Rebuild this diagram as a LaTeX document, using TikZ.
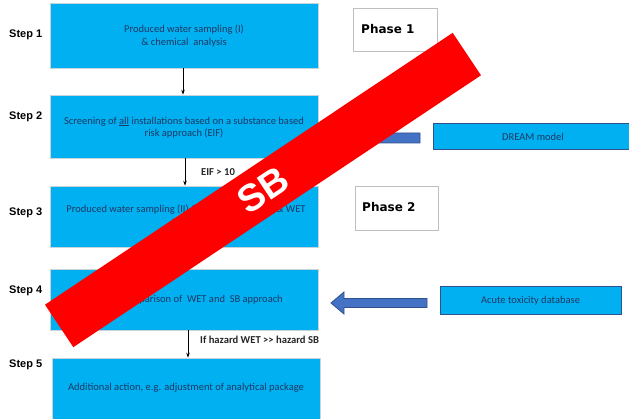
\documentclass[tikz,border=0pt]{standalone}
\usepackage{fontspec}
\setmainfont{Carlito}
\newfontfamily\stepfont{Liberation Sans}
\newfontfamily\phasefont{DejaVu Sans}
\usetikzlibrary{arrows.meta}
\definecolor{boxcyan}{HTML}{00B0F0}
\definecolor{boxtext}{HTML}{1F3864}
\definecolor{boxedge}{HTML}{C8D3DC}
\definecolor{arrowfill}{HTML}{4472C4}
\definecolor{arrowedge}{HTML}{2F528F}
\definecolor{phaseedge}{HTML}{BFBFBF}
\tikzset{
  stepbox/.style={fill=boxcyan, draw=boxedge, line width=0.6pt, inner sep=0pt},
  srcbox/.style={fill=boxcyan, draw=arrowedge, line width=1pt, inner sep=0pt,
    text=boxtext, font=\fontsize{10.5}{12.5}\selectfont},
  boxlabel/.style={text=boxtext, align=center, font=\fontsize{10.5}{12.5}\selectfont, inner sep=0pt},
  steplabel/.style={anchor=west, inner sep=0pt, font=\stepfont\bfseries\fontsize{11}{13}\selectfont},
  phasebox/.style={fill=white, draw=phaseedge, line width=0.8pt, inner sep=0pt},
  phaselabel/.style={anchor=west, inner sep=0pt, font=\phasefont\bfseries\fontsize{12}{14}\selectfont},
  flow/.style={-{Stealth[length=5pt,width=3.5pt]}, line width=0.8pt},
  condlabel/.style={anchor=west, inner sep=0pt, font=\bfseries\fontsize{10.6}{12.5}\selectfont, text=black!85},
  blockarrow/.style={fill=arrowfill, draw=arrowedge, line width=0.8pt},
  banner/.style={fill=red, inner sep=0pt, text=white, rotate=33.7,
    minimum width=490pt, minimum height=51pt,
    font=\stepfont\bfseries\fontsize{38}{40}\selectfont}
}
\begin{document}
\begin{tikzpicture}[x=1pt, y=-1pt]
\useasboundingbox (0,0) rectangle (629,419);
\fill[white] (0,0) rectangle (629,419);

% main column of steps
\node[stepbox, minimum width=268pt, minimum height=65pt] (b1) at (184,35.5) {};
\node[stepbox, minimum width=268pt, minimum height=63pt] (b2) at (184,126.5) {};
\node[stepbox, minimum width=268pt, minimum height=61pt] (b3) at (184,216.5) {};
\node[stepbox, minimum width=268pt, minimum height=61pt] (b4) at (184,299.5) {};
\node[stepbox, minimum width=268pt, minimum height=62pt] (b5) at (186,389) {};

\node[boxlabel] (t1) at (184,36) {Produced water sampling (I)\\\& chemical\ \ analysis};
\node[boxlabel] (t2) at (184,127.5) {Screening of \underline{all} installations based on a substance based\\risk approach (EIF)};
\node[boxlabel] (t3) at (186,216) {Produced water sampling (II) \& chemical analysis \& WET\\testing};
\node[boxlabel, anchor=east] (t4) at (283,300) {Comparison of\ \ WET and\ \ SB approach};
\node[boxlabel] (t5) at (186,388) {Additional action, e.g. adjustment of analytical package};

% step numbers
\node[steplabel] (s1) at (9,35) {Step 1};
\node[steplabel] (s2) at (9,117) {Step 2};
\node[steplabel] (s3) at (9,213) {Step 3};
\node[steplabel] (s4) at (9,291) {Step 4};
\node[steplabel] (s5) at (9,365) {Step 5};

% flow between steps
\coordinate (x1) at (183,0);
\coordinate (x2) at (185,0);
\coordinate (x3) at (188,0);
\draw[flow] (b1.south -| x1) -- (b2.north -| x1);
\draw[flow] (b2.south -| x2) -- (b3.north -| x2);
\draw[flow] (b4.south -| x3) -- (b5.north -| x3);
\node[condlabel] (c1) at (201,172) {EIF > 10};
\node[condlabel] (c2) at (200,340) {If hazard WET >{}> hazard SB};

% phases
\node[phasebox, minimum width=84pt, minimum height=43pt] (p1) at (395,29.5) {};
\node[phaselabel] (pl1) at (361,29.5) {Phase 1};
\node[phasebox, minimum width=83pt, minimum height=44pt] (p2) at (396.5,208) {};
\node[phaselabel] (pl2) at (362,207) {Phase 2};

% external data sources
\node[srcbox, minimum width=200pt, minimum height=26pt] (dream) at (533,137) {DREAM model};
\node[srcbox, minimum width=181pt, minimum height=28pt] (acute) at (530.5,301) {Acute toxicity database};

% block arrows feeding the steps
\draw[blockarrow] (331,138) -- (344,127) -- (344,133) -- (420,133) -- (420,143) -- (344,143) -- (344,149) -- cycle;
\draw[blockarrow] (331,303) -- (344,292) -- (344,298.5) -- (427,298.5) -- (427,307.5) -- (344,307.5) -- (344,314) -- cycle;

% diagonal banner
\node[banner] (sb) at (263,190) {SB};
\end{tikzpicture}
\end{document}
